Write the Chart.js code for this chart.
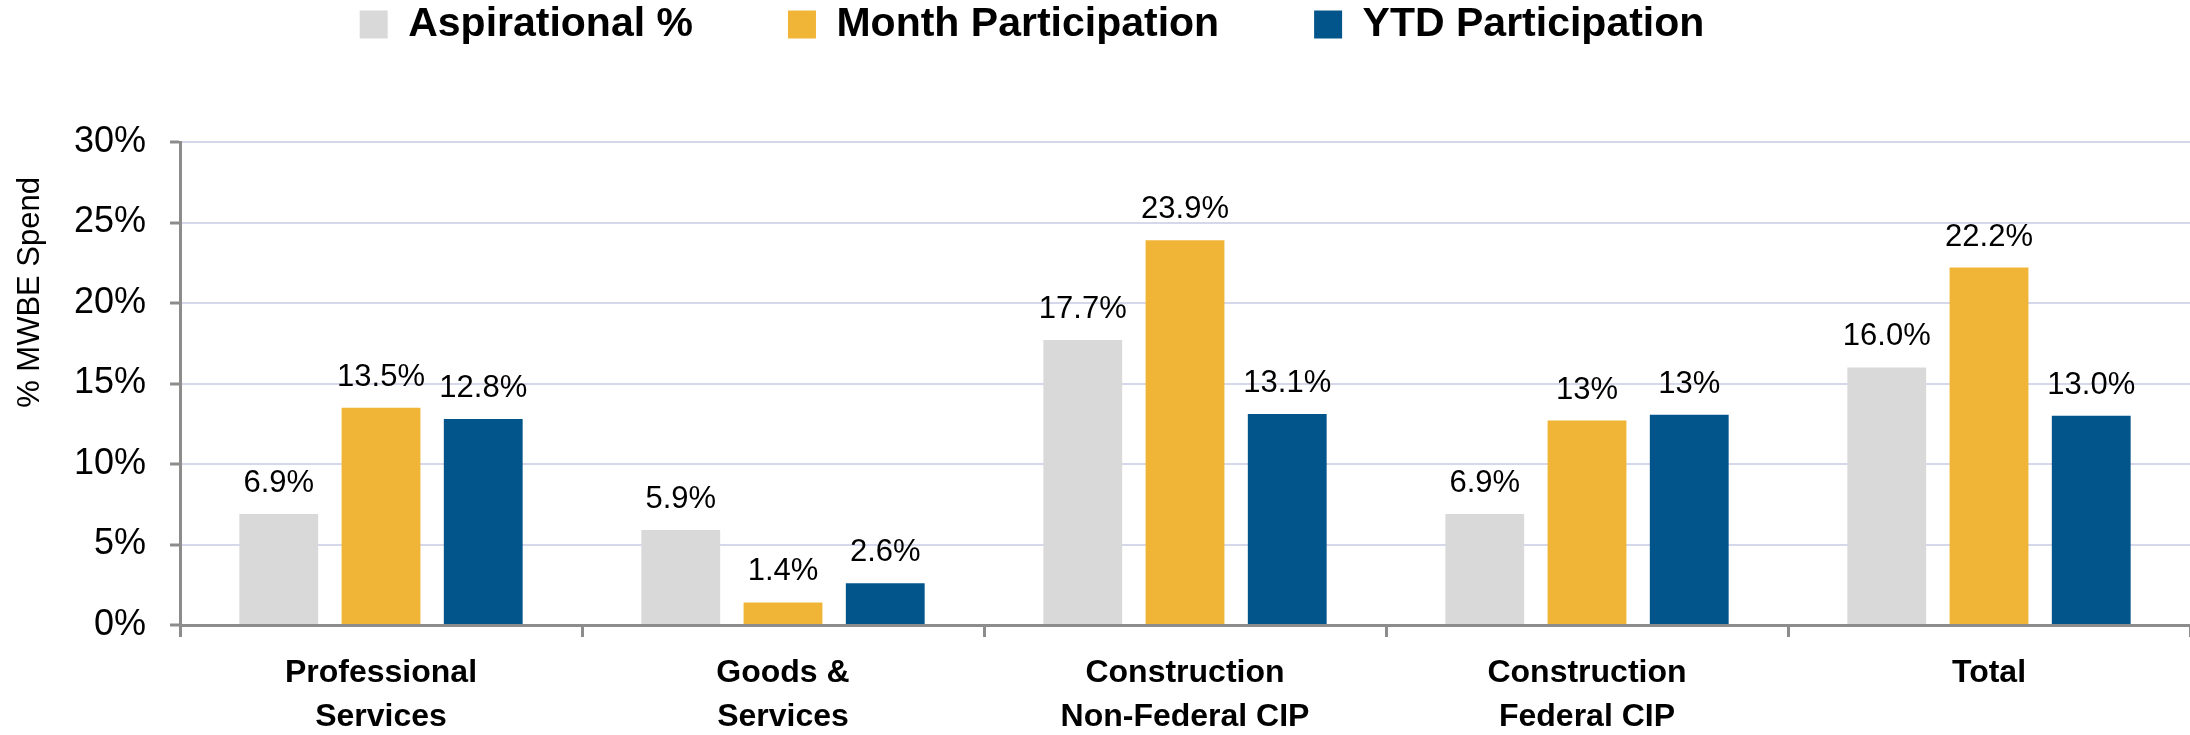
<!DOCTYPE html>
<html><head><meta charset="utf-8">
<script src="https://cdn.jsdelivr.net/npm/chart.js@4.4.1/dist/chart.umd.min.js"></script>
<style>html,body{margin:0;padding:0;background:#fff}#wrap{width:2190px;height:735px}</style>
</head><body><div id="wrap"><canvas id="c" width="2190" height="735"></canvas></div>
<script>
const categories = [["Professional","Services"],["Goods &","Services"],["Construction","Non-Federal CIP"],["Construction","Federal CIP"],"Total"];
const seriesNames = ["Aspirational %","Month Participation","YTD Participation"];
const aspirational = [6.9, 5.9, 17.7, 6.9, 16.0];
const month = [13.5, 1.4, 23.9, 12.7, 22.2];
const ytd = [12.8, 2.6, 13.1, 13.06, 13.0];
const aspirationalLabels = ["6.9%","5.9%","17.7%","6.9%","16.0%"];
const monthLabels = ["13.5%","1.4%","23.9%","13%","22.2%"];
const ytdLabels = ["12.8%","2.6%","13.1%","13%","13.0%"];
const yTicks = [0,5,10,15,20,25,30];
const yTitle = "% MWBE Spend";

const FAM = '"Liberation Sans", Arial, sans-serif';
Chart.defaults.font.family = FAM;
const labelSets = [aspirationalLabels, monthLabels, ytdLabels];

const valueLabels = {
  id: 'valueLabels',
  afterDatasetsDraw(chart) {
    const ctx = chart.ctx;
    ctx.save();
    ctx.font = '31px ' + FAM;
    ctx.fillStyle = '#000';
    ctx.textAlign = 'center';
    ctx.textBaseline = 'alphabetic';
    chart.data.datasets.forEach((ds, i) => {
      const meta = chart.getDatasetMeta(i);
      meta.data.forEach((bar, j) => {
        ctx.fillText(labelSets[i][j], bar.x, bar.y - 22);
      });
    });
    ctx.restore();
  }
};

const layoutTweaks = {
  id: 'layoutTweaks',
  afterLayout(chart) {
    const L = chart.legend;
    const P = L.options.labels.padding;
    const h = L.height;
    L.top = 4 - P;
    L.bottom = L.top + h;
    L.left -= 66;
    L.right -= 66;
    const ys = chart.scales.y;
    if (!ys._titleShifted) {
      const orig = ys.drawTitle;
      ys.drawTitle = function () {
        const t = this.top;
        this.top = t + 35;
        orig.call(this);
        this.top = t;
      };
      ys._titleShifted = true;
    }
  }
};

new Chart(document.getElementById('c'), {
  type: 'bar',
  data: {
    labels: categories,
    datasets: [
      { label: seriesNames[0], data: aspirational, backgroundColor: '#D9D9D9' },
      { label: seriesNames[1], data: month, backgroundColor: '#F0B436' },
      { label: seriesNames[2], data: ytd, backgroundColor: '#02558B' }
    ]
  },
  options: {
    responsive: false,
    animation: false,
    datasets: { bar: { categoryPercentage: 0.763, barPercentage: 0.771, borderWidth: 0 } },
    layout: { padding: { top: -4, right: -6, left: 0, bottom: 0 } },
    plugins: {
      legend: {
        position: 'top',
        labels: {
          boxWidth: 28, boxHeight: 28, padding: 95, color: '#000',
          font: { size: 41, weight: 'bold', family: FAM }
        }
      },
      tooltip: { enabled: false }
    },
    scales: {
      x: {
        grid: { display: true, drawOnChartArea: false, drawTicks: true, tickLength: 12, tickColor: '#8C8C8C', tickWidth: 3, offset: true, color: '#8C8C8C', lineWidth: 3 },
        border: { display: true, color: '#8C8C8C', width: 3 },
        ticks: { color: '#000', font: { size: 32, weight: 'bold', lineHeight: 1.375 }, padding: 14, maxRotation: 0, autoSkip: false },
        afterFit: s => { s.height = 110; }
      },
      y: {
        min: 0, max: 30,
        afterBuildTicks: s => { s.ticks = yTicks.map(v => ({ value: v })); },
        grid: {
          color: c => (c.tick && c.tick.value === 0) ? 'rgba(0,0,0,0)' : '#D5D8EA',
          lineWidth: 2, drawTicks: true, tickLength: 10, tickColor: '#8C8C8C', tickWidth: 3
        },
        border: { color: '#8C8C8C', width: 3 },
        ticks: { color: '#000', font: { size: 36 }, padding: 24, callback: v => v + '%' },
        title: { display: true, text: yTitle, align: 'end', color: '#000', font: { size: 31, lineHeight: 1.2 }, padding: { top: 12, bottom: 0 } },
        afterFit: s => { s.width = 180; }
      }
    }
  },
  plugins: [valueLabels, layoutTweaks]
});
</script>
</body></html>
